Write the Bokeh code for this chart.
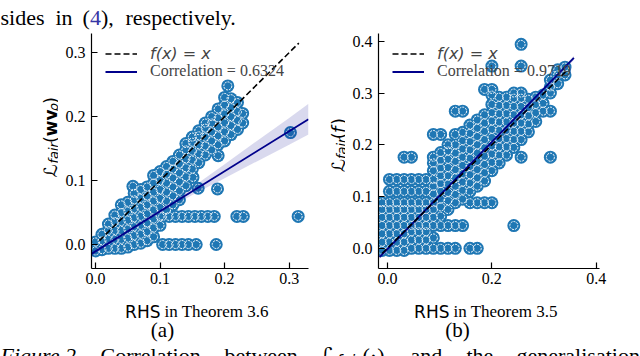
import math
from bokeh.plotting import figure
from bokeh.models import (Legend, LegendItem, FixedTicker, NumeralTickFormatter,
                          Range1d, ColumnDataSource, Band)
from bokeh.layouts import row, column
from bokeh.core.properties import value
from bokeh.embed import file_html
from bokeh.resources import INLINE

# ---------------- data ----------------
# panel (a): columns of points  (x, [y values])
left_cols = [
    (0.000, [-0.010, 0.004]),
    (0.010, [-0.008, 0.006, 0.016]),
    (0.020, [-0.006, 0.008, 0.022, 0.032]),
    (0.030, [-0.006, 0.008, 0.022, 0.036, 0.046]),
    (0.040, [-0.006, 0.008, 0.022, 0.036, 0.050, 0.062]),
    (0.050, [-0.004, 0.010, 0.024, 0.038, 0.052, 0.066]),
    (0.060, [0.000, 0.014, 0.028, 0.042, 0.056, 0.070, 0.080]),
    (0.070, [0.002, 0.016, 0.030, 0.044, 0.058, 0.072, 0.086]),
    (0.080, [0.006, 0.020, 0.034, 0.048, 0.062, 0.076, 0.090]),
    (0.090, [0.012, 0.026, 0.040, 0.054, 0.068, 0.082, 0.096, 0.108]),
    (0.100, [0.030, 0.044, 0.058, 0.072, 0.086, 0.100, 0.114]),
    (0.110, [0.054, 0.068, 0.082, 0.096, 0.110, 0.122]),
    (0.120, [0.062, 0.076, 0.090, 0.104, 0.118, 0.130]),
    (0.130, [0.070, 0.084, 0.098, 0.112, 0.126, 0.140]),
    (0.140, [0.092, 0.106, 0.120, 0.134, 0.148, 0.158]),
    (0.150, [0.118, 0.132, 0.146, 0.160, 0.168]),
    (0.160, [0.128, 0.142, 0.156, 0.170, 0.178]),
    (0.170, [0.140, 0.154, 0.168, 0.182, 0.190]),
    (0.180, [0.148, 0.162, 0.176, 0.190, 0.200]),
    (0.190, [0.156, 0.170, 0.184, 0.198, 0.212]),
    (0.200, [0.162, 0.176, 0.190, 0.204, 0.218, 0.230]),
    (0.210, [0.172, 0.186, 0.200, 0.214, 0.228]),
    (0.220, [0.180, 0.194, 0.208, 0.222]),
    (0.228, [0.190, 0.205]),
]
left_extra_x = [0.104, 0.114, 0.124, 0.134, 0.144, 0.154, 0.164, 0.174, 0.184, 0.219, 0.229, 0.314,
                0.104, 0.114, 0.124, 0.134, 0.144, 0.156, 0.187,
                0.058, 0.151, 0.159, 0.189, 0.190, 0.302, 0.205]
left_extra_y = [0.044, 0.044, 0.044, 0.044, 0.044, 0.044, 0.044, 0.044, 0.044, 0.044, 0.044, 0.044,
                0.000, 0.000, 0.000, 0.000, 0.000, 0.000, 0.000,
                0.091, 0.105, 0.088, 0.087, 0.139, 0.175, 0.248]
left_fit_x = [-0.008, 0.330]
left_fit_y = [-0.0156, 0.196]
left_band_x = [-0.008, 0.05, 0.10, 0.15, 0.20, 0.25, 0.30, 0.33]
left_band_lo = [-0.0206, 0.0177, 0.049, 0.0774, 0.1037, 0.130, 0.156, 0.172]
left_band_hi = [-0.0106, 0.0237, 0.055, 0.0894, 0.1257, 0.162, 0.198, 0.220]
left_id = [0.006, 0.315]
left_corr = "0.6324"

# panel (b)
right_cols = [
    (-0.010, [-0.004, 0.012, 0.028, 0.044, 0.060, 0.075, 0.088]),
    (0.004, [-0.004, 0.012, 0.028, 0.044, 0.060, 0.075, 0.088, 0.110, 0.133]),
    (0.018, [-0.004, 0.012, 0.028, 0.044, 0.060, 0.075, 0.088, 0.110, 0.133]),
    (0.032, [-0.004, 0.012, 0.028, 0.044, 0.060, 0.075, 0.088, 0.110, 0.133, 0.176]),
    (0.046, [0.000, 0.016, 0.032, 0.044, 0.060, 0.075, 0.088, 0.110, 0.133, 0.176]),
    (0.060, [0.000, 0.016, 0.032, 0.044, 0.060, 0.075, 0.088, 0.110, 0.133]),
    (0.074, [0.000, 0.016, 0.032, 0.044, 0.060, 0.075, 0.088, 0.110, 0.133]),
    (0.088, [0.000, 0.020, 0.044, 0.060, 0.075, 0.088, 0.105, 0.120, 0.133, 0.150, 0.165, 0.176, 0.220]),
    (0.102, [0.000, 0.044, 0.062, 0.080, 0.095, 0.110, 0.125, 0.140, 0.155, 0.170, 0.185, 0.220]),
    (0.116, [0.000, 0.044, 0.075, 0.092, 0.108, 0.124, 0.140, 0.156, 0.172, 0.188, 0.200]),
    (0.130, [0.000, 0.044, 0.088, 0.104, 0.120, 0.136, 0.152, 0.168, 0.184, 0.200, 0.220, 0.265]),
    (0.144, [0.044, 0.095, 0.112, 0.128, 0.144, 0.160, 0.176, 0.192, 0.208, 0.224, 0.265]),
    (0.158, [0.000, 0.088, 0.110, 0.126, 0.142, 0.158, 0.174, 0.190, 0.206, 0.222, 0.238]),
    (0.172, [0.000, 0.088, 0.120, 0.136, 0.152, 0.168, 0.184, 0.200, 0.216, 0.232, 0.248]),
    (0.186, [0.088, 0.130, 0.146, 0.162, 0.178, 0.194, 0.210, 0.226, 0.242, 0.258, 0.307]),
    (0.200, [0.088, 0.150, 0.166, 0.182, 0.198, 0.214, 0.230, 0.246, 0.262, 0.278, 0.296, 0.307, 0.352]),
    (0.214, [0.165, 0.180, 0.196, 0.212, 0.228, 0.244, 0.260, 0.276, 0.292]),
    (0.228, [0.180, 0.196, 0.212, 0.228, 0.244, 0.260, 0.276, 0.292]),
    (0.242, [0.044, 0.195, 0.210, 0.226, 0.242, 0.258, 0.274, 0.290, 0.300]),
    (0.256, [0.176, 0.210, 0.226, 0.242, 0.258, 0.274, 0.290, 0.300, 0.352, 0.394]),
    (0.270, [0.225, 0.240, 0.256, 0.272, 0.288]),
    (0.284, [0.245, 0.262, 0.278, 0.292]),
    (0.298, [0.265, 0.280, 0.296]),
    (0.312, [0.176, 0.265, 0.300, 0.312, 0.325]),
    (0.326, [0.318, 0.335, 0.345]),
    (0.340, [0.335, 0.350]),
]
right_fit_x = [-0.015, 0.357]
right_fit_y = [-0.017, 0.368]
right_band_x = [-0.015, 0.17, 0.357]
right_band_lo = [-0.020, 0.1576, 0.364]
right_band_hi = [-0.014, 0.1596, 0.372]
right_id = [-0.010, 0.344]
right_corr = "0.9719"

left_xticks = [0.0, 0.1, 0.2, 0.3]
left_yticks = [0.0, 0.1, 0.2, 0.3]
right_xticks = [0.0, 0.2, 0.4]
right_yticks = [0.0, 0.1, 0.2, 0.3, 0.4]

BLUE = "#1f77b4"
NAVY = "#00008b"
SERIF = "Liberation Serif"
SANS = "DejaVu Sans"


def flatten(cols, ex=None, ey=None):
    xs, ys = [], []
    for x, yl in cols:
        for y in yl:
            xs.append(x)
            ys.append(y)
    if ex:
        xs += ex
        ys += ey
    return xs, ys


def make_fig(xr, yr, fw, br, xt, yt):
    p = figure(output_backend="svg", toolbar_location=None, tools="",
               frame_width=fw, frame_height=235,
               x_range=Range1d(*xr), y_range=Range1d(*yr),
               min_border_left=33, min_border_right=br,
               min_border_top=0, min_border_bottom=27,
               outline_line_color=None, background_fill_color="white",
               border_fill_color="white")
    p.grid.visible = False
    p.xaxis.ticker = FixedTicker(ticks=xt)
    p.yaxis.ticker = FixedTicker(ticks=yt)
    p.axis.formatter = NumeralTickFormatter(format="0.0")
    p.axis.major_tick_in = 6
    p.axis.major_tick_out = 0
    p.axis.minor_tick_line_color = None
    p.axis.axis_line_width = 1.2
    p.axis.major_tick_line_width = 1.2
    p.axis.axis_line_color = "black"
    p.axis.major_tick_line_color = "black"
    p.axis.major_label_text_font = SERIF
    p.axis.major_label_text_font_size = "16px"
    p.axis.major_label_text_color = "black"
    p.xaxis.major_label_standoff = 4
    p.yaxis.major_label_standoff = 6
    return p


def text_fig(x0, x1, y0, y1):
    # a plain drawing area whose coordinates are page pixels (y downwards)
    t = figure(output_backend="svg", toolbar_location=None, tools="",
               width=x1 - x0, height=y1 - y0, min_border=0,
               x_range=Range1d(x0, x1), y_range=Range1d(y1, y0),
               x_axis_type=None, y_axis_type=None, outline_line_color=None,
               background_fill_color="white", border_fill_color="white")
    t.grid.visible = False
    return t


def txt(t, x, y, s, font=SERIF, size=16, style="normal", color="black",
        align="left", angle=0.0):
    t.text(x=[x], y=[y], text=[s], text_font=value(font),
           text_font_size=value(f"{size}px"), text_font_style=style,
           text_color=color, text_align=align, text_baseline="alphabetic",
           angle=angle)


def draw_panel(p, xs, ys, fit_x, fit_y, bx, blo, bhi, idr, corr):
    src = ColumnDataSource(dict(x=xs, y=ys))
    p.scatter("x", "y", source=src, size=13, fill_color=BLUE, line_color=None)
    p.scatter("x", "y", source=src, size=8, fill_color=None, line_color="white",
              line_width=1, line_dash="2 1")
    bsrc = ColumnDataSource(dict(x=bx, lo=blo, hi=bhi))
    p.add_layout(Band(base="x", lower="lo", upper="hi", source=bsrc,
                      fill_color=NAVY, fill_alpha=0.15, line_color=None))
    r_fit = p.line(fit_x, fit_y, line_color=NAVY, line_width=1.8)
    r_id = p.line(idr, idr, line_color="black", line_width=1.6, line_dash="6 3")
    common = dict(border_line_color=None, background_fill_alpha=0, padding=0, margin=0,
                  spacing=0, glyph_width=32, glyph_height=17, label_height=17,
                  label_standoff=13, label_text_font_size="16px")
    l1 = Legend(items=[LegendItem(label="f(x) = x", renderers=[r_id])],
                location=(14, 205), label_text_font=SANS,
                label_text_font_style="italic", **common)
    l2 = Legend(items=[LegendItem(label="Correlation = " + corr, renderers=[r_fit])],
                location=(14, 188), label_text_font=SERIF, **common)
    p.add_layout(l1)
    p.add_layout(l2)


# ---------------- panel (a) ----------------
p1 = make_fig((-0.0062, 0.33), (-0.0375, 0.33), 217, 18, left_xticks, left_yticks)
lx, ly = flatten(left_cols, left_extra_x, left_extra_y)
draw_panel(p1, lx, ly, left_fit_x, left_fit_y, left_band_x, left_band_lo, left_band_hi,
           left_id, left_corr)

# ---------------- panel (b) ----------------
p2 = make_fig((-0.017, 0.406), (-0.039, 0.415), 221, 41, right_xticks, right_yticks)
rx, ry = flatten(right_cols)
draw_panel(p2, rx, ry, right_fit_x, right_fit_y, right_band_x, right_band_lo, right_band_hi,
           right_id, right_corr)

R = math.pi / 2

# ---------------- top line of the page ----------------
top = text_fig(0, 640, 0, 33)
txt(top, 0, 17, "sides", size=22)
txt(top, 55, 17, "in", size=22)
txt(top, 82, 17, "(", size=22)
txt(top, 89.5, 17, "4", size=22, color="#3535a5")
txt(top, 100.5, 17, "),", size=22)
txt(top, 125, 17, "respectively.", size=22)

# ---------------- y labels ----------------
ya = text_fig(0, 58, 33, 295)
txt(ya, 50, 193, "\u2112", font=SANS, size=18, angle=R)
txt(ya, 53, 178, "fair", font=SANS, size=13, style="italic", angle=R)
txt(ya, 50, 155, "(", font=SANS, size=18, angle=R)
txt(ya, 50, 147.5, "wv", font=SANS, size=17, style="bold", angle=R)
txt(ya, 53, 120, "\u03c1", font=SANS, size=13, style="italic", angle=R)
txt(ya, 50, 111.5, ")", font=SANS, size=18, angle=R)

yb = text_fig(326, 345, 33, 295)
txt(yb, 338, 187, "\u2112", font=SANS, size=18, angle=R)
txt(yb, 341, 173, "fair", font=SANS, size=13, style="italic", angle=R)
txt(yb, 338, 151, "(", font=SANS, size=18, angle=R)
txt(yb, 338, 144, "f", font=SANS, size=18, style="italic", angle=R)
txt(yb, 338, 135, ")", font=SANS, size=18, angle=R)

# ---------------- bottom: x labels, sub-captions, caption ----------------
bot = text_fig(0, 640, 295, 356)
txt(bot, 160, 311, "RHS", font=SANS, size=17, align="right")
txt(bot, 164, 311, "in Theorem 3.6", size=17)
txt(bot, 449, 311, "RHS", font=SANS, size=17, align="right")
txt(bot, 453, 311, "in Theorem 3.5", size=17)
txt(bot, 162, 329, "(a)", size=21, align="center")
txt(bot, 457, 329, "(b)", size=21, align="center")
CB = 355
txt(bot, 0, CB, "Figure 2.", size=22, style="italic")
txt(bot, 100, CB, "Correlation", size=22)
txt(bot, 224, CB, "between", size=22)
txt(bot, 320, CB, "\u2112", font=SANS, size=22)
txt(bot, 336, CB + 5, "fair", font=SANS, size=15, style="italic")
txt(bot, 362, CB, "(\u00b7)", size=22)
txt(bot, 410, CB, "and", size=22)
txt(bot, 466, CB, "the", size=22)
txt(bot, 516, CB, "generalisation", size=22)

layout = column(top, row(ya, p1, yb, p2), bot)
open("out.html", "w").write(file_html(layout, INLINE))
